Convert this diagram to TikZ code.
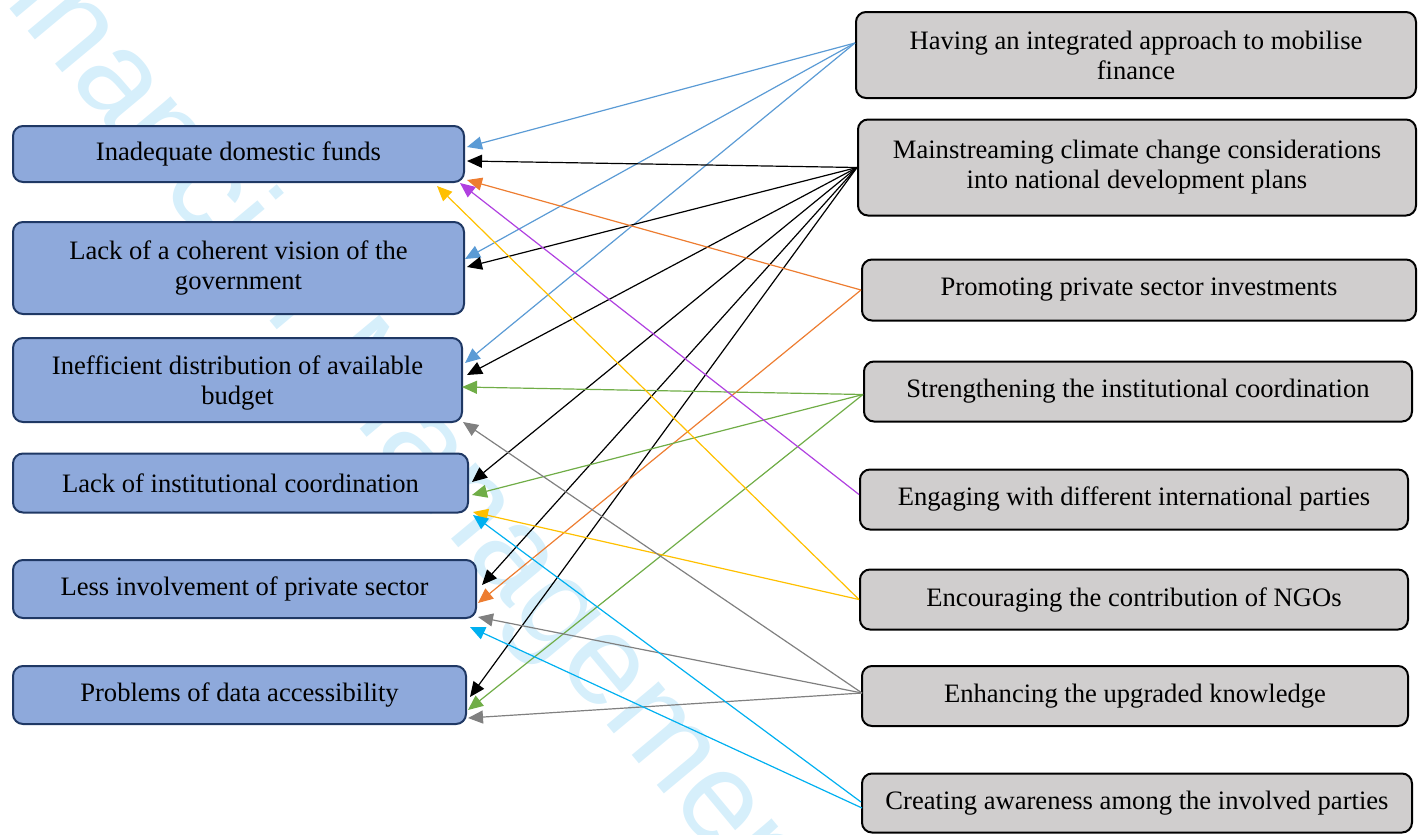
\documentclass[tikz,border=0pt]{standalone}
\usepackage{fontspec}
\setmainfont{Liberation Serif}
\newfontfamily\markfont{Liberation Sans}
\usetikzlibrary{arrows.meta,calc}

\definecolor{IssueFill}{HTML}{8EA9DB}
\definecolor{IssueLine}{HTML}{1F3864}
\definecolor{ActionFill}{HTML}{D0CECE}
\definecolor{MarkBlue}{HTML}{D6EFFB}
\definecolor{LinkBlue}{HTML}{5B9BD5}
\definecolor{LinkOrange}{HTML}{ED7D31}
\definecolor{LinkGreen}{HTML}{70AD47}
\definecolor{LinkPurple}{HTML}{B040E0}
\definecolor{LinkYellow}{HTML}{FFC000}
\definecolor{LinkGray}{HTML}{808080}
\definecolor{LinkCyan}{HTML}{00B0F0}

\tikzset{
    IssueBox/.style={draw=IssueLine, fill=IssueFill},
    ActionBox/.style={draw=black, fill=ActionFill}
}

\begin{document}
\begin{tikzpicture}[x=1pt, y=-1pt]

\useasboundingbox (0,0) rectangle (1422,835);
\clip (0,0) rectangle (1422,835);

% Watermark behind the boxes
\node (mark) at (369,440) [rotate=-50.2, anchor=base, text=MarkBlue,
    font=\markfont\fontsize{128}{128}\selectfont] {Financial Management};

\begin{scope}[every node/.style={shape=rectangle, rounded corners=10pt, line width=2pt,
              inner sep=0pt, align=center, font=\fontsize{26.6}{30}\selectfont}]
    % Barriers (left column)
    \node (L1) at (238.5,154) [IssueBox, minimum width=451pt, minimum height=56pt]
        {Inadequate domestic funds};
    \node (L2) at (238.5,268) [IssueBox, minimum width=451pt, minimum height=92pt]
        {Lack of a coherent vision of the\\government};
    \node (L3) at (237.5,380) [IssueBox, minimum width=449pt, minimum height=84pt, text depth=-4pt]
        {Inefficient distribution of available\\budget};
    \node (L4) at (240.5,483) [IssueBox, minimum width=455pt, minimum height=59pt]
        {Lack of institutional coordination};
    \node (L5) at (244.5,589) [IssueBox, minimum width=463pt, minimum height=58pt]
        {Less involvement of private sector};
    \node (L6) at (239.5,695) [IssueBox, minimum width=453pt, minimum height=58pt]
        {Problems of data accessibility};

    % Measures (right column)
    \node (R1) at (1136,55) [ActionBox, minimum width=560pt, minimum height=86pt]
        {Having an integrated approach to mobilise\\finance};
    \node (R2) at (1137,167.5) [ActionBox, minimum width=558pt, minimum height=96pt]
        {Mainstreaming climate change considerations\\into national development plans};
    \node (R3) at (1139,290) [ActionBox, minimum width=554pt, minimum height=61pt]
        {Promoting private sector investments};
    \node (R4) at (1138,391.5) [ActionBox, minimum width=548pt, minimum height=60pt]
        {Strengthening the institutional coordination};
    \node (R5) at (1134,499.5) [ActionBox, minimum width=548pt, minimum height=60pt]
        {Engaging with different international parties};
    \node (R6) at (1134,599.5) [ActionBox, minimum width=548pt, minimum height=60pt]
        {Encouraging the contribution of NGOs};
    \node (R7) at (1135,696) [ActionBox, minimum width=546pt, minimum height=60pt]
        {Enhancing the upgraded knowledge};
    \node (R8) at (1137,803) [ActionBox, minimum width=550pt, minimum height=59pt]
        {Creating awareness among the involved parties};
\end{scope}

\tikzset{Link/.style={draw=#1, line width=1.2pt}}

\begin{scope}[>={Triangle[length=15pt,width=13pt]}]
    % Integrated approach
    \path [->] ($(R1.west)+(0,-12)$) edge [Link=LinkBlue] ($(L1.east)+(2,-7)$);
    \path [->] ($(R1.west)+(0,-12)$) edge [Link=LinkBlue] ($(L2.east)+(0,-9)$);
    \path [->] ($(R1.west)+(0,-12)$) edge [Link=LinkBlue] ($(L3.east)+(2,-17)$);

    % Mainstreaming
    \path [->] (R2.west) edge [Link=black] ($(L1.east)+(2,7)$);
    \path [->] (R2.west) edge [Link=black] ($(L2.east)+(2,-1)$);
    \path [->] (R2.west) edge [Link=black] ($(L3.east)+(4,-5)$);
    \path [->] (R2.west) edge [Link=black] ($(L4.east)+(3,-1)$);
    \path [->] (R2.west) edge [Link=black] ($(L5.east)+(5,-4)$);
    \path [->] (R2.west) edge [Link=black] ($(L6.east)+(3,2)$);

    % Private sector
    \path [->] (R3.west) edge [Link=LinkOrange] ($(L1.east)+(2,26)$);
    \path [->] (R3.west) edge [Link=LinkOrange] ($(L5.east)+(1,14)$);

    % Institutional coordination
    \path [->] ($(R4.west)+(0,3)$) edge [Link=LinkGreen] ($(L3.east)+(-1,7)$);
    \path [->] ($(R4.west)+(0,3)$) edge [Link=LinkGreen] ($(L4.east)+(3,12)$);
    \path [->] ($(R4.west)+(0,3)$) edge [Link=LinkGreen] ($(L6.east)+(1,15)$);

    % International parties
    \path [->] ($(R5.west)+(0,-5)$) edge [Link=LinkPurple] ($(L1.east)+(-5,29)$);

    % NGOs
    \path [->] (R6.west) edge [Link=LinkYellow] ($(L1.east)+(-28,32)$);
    \path [->] (R6.west) edge [Link=LinkYellow] ($(L4.east)+(4,29)$);

    % Upgraded knowledge
    \path [->] ($(R7.west)+(1,-3)$) edge [Link=LinkGray] ($(L3.east)+(0,42)$);
    \path [->] ($(R7.west)+(1,-3)$) edge [Link=LinkGray] ($(L5.east)+(1,28)$);
    \path [->] ($(R7.west)+(1,-3)$) edge [Link=LinkGray] ($(L6.east)+(1,23)$);

    % Awareness
    \path [->] ($(R8.west)+(0,-1)$) edge [Link=LinkCyan] ($(L4.east)+(4,32)$);
    \path [->] ($(R8.west)+(1,5)$) edge [Link=LinkCyan] ($(L5.east)+(-7,38)$);
\end{scope}

\end{tikzpicture}
\end{document}
